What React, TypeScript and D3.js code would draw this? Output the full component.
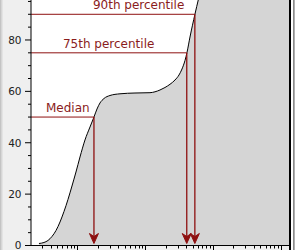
import React from "react";
import * as d3 from "d3";

// Cumulative distribution (log x axis)
const sizes = [0.27, 0.32, 0.367, 0.42, 0.482, 0.552, 0.632, 0.724, 0.829, 0.95, 1.089, 1.29, 1.53, 1.752, 1.94, 2.148, 2.461, 3.017, 4.24, 7.06, 11.75, 13.93, 16.51, 19.56, 23.19, 27.49, 31.49, 34.87, 38.62, 41.33, 45.77, 54.25, 61.09, 66.53, 1400];
const cumulative = [0.78, 1.17, 1.95, 3.5, 5.84, 9.15, 13.23, 17.91, 23.16, 28.61, 34.45, 41.07, 46.13, 50.02, 53.13, 55.47, 57.22, 58.39, 59.05, 59.36, 59.48, 59.83, 60.53, 61.5, 62.75, 64.42, 66.37, 68.7, 72.01, 75.13, 81.16, 90.11, 95.95, 100, 100];

const percentileLabels = ["Median", "75th percentile", "90th percentile"];
const percentileValues = [50, 75, 90];
const percentileSizes = [1.75, 41, 54];
const labelStartSizes = [0.343, 0.61, 1.69];

const yTickValues = [0, 20, 40, 60, 80];
const xDomain = [0.206, 1324];
const yDomain = [0, 100];

const W = 295;
const H = 250;
const LEFT = 31;
const RIGHT = 289;
const BOTTOM = 245.5;
const TOP = -11.4;

const RED = "#8e1010";
const TEXT_RED = "#8a1c1c";

export default function App() {
  const x = d3.scaleLog().domain(xDomain).range([LEFT, RIGHT]);
  const y = d3.scaleLinear().domain(yDomain).range([BOTTOM, TOP]);

  const pts = sizes.map((s, i) => [s, cumulative[i]] as [number, number]);
  const line = d3
    .line<[number, number]>()
    .x((d) => x(d[0]))
    .y((d) => y(d[1]))
    .curve(d3.curveMonotoneX);
  const area = d3
    .area<[number, number]>()
    .x((d) => x(d[0]))
    .y0(y(0))
    .y1((d) => y(d[1]))
    .curve(d3.curveMonotoneX);

  // y ticks: major every 20, minor every 5
  const yMinor = d3.range(0, 101, 5).filter((v) => v % 20 !== 0);

  // x ticks: log
  const xTicks: { v: number; major: boolean }[] = [];
  [0.1, 1, 10, 100, 1000].forEach((dec) => {
    for (let m = 1; m <= 9; m++) {
      const v = dec * m;
      if (v >= xDomain[0] * 0.999 && v <= xDomain[1]) xTicks.push({ v, major: m === 1 });
    }
  });

  const tipY = y(0) - 2;

  return (
    <svg
      width={W}
      height={H}
      style={{ position: "fixed", left: 0, top: 0, display: "block" }}
      xmlns="http://www.w3.org/2000/svg"
    >
      <defs>
        <clipPath id="plot">
          <rect x={LEFT} y={TOP} width={RIGHT - LEFT} height={BOTTOM - TOP} />
        </clipPath>
      </defs>
      {/* backgrounds */}
      <rect x={0} y={0} width={W} height={H} fill="#efefef" />
      <rect x={0} y={0} width={1} height={H} fill="#c4c4c4" />
      <rect x={1} y={0} width={1} height={H} fill="#d6d6d6" />
      <rect x={2} y={0} width={1} height={H} fill="#e3e3e3" />
      <rect x={LEFT} y={0} width={RIGHT - LEFT} height={BOTTOM} fill="#ffffff" />

      {/* area + curve */}
      <g clipPath="url(#plot)">
        <path d={area(pts) || ""} fill="#d5d5d5" />
        <path d={line(pts) || ""} fill="none" stroke="#000" strokeWidth={1} />
      </g>

      {/* percentile lines and arrows */}
      {percentileValues.map((p, i) => {
        const px = x(percentileSizes[i]);
        const py = y(p);
        return (
          <g key={p}>
            <line x1={LEFT} x2={px} y1={py} y2={py} stroke={RED} strokeWidth={1} />
            <line x1={px} x2={px} y1={py} y2={tipY - 4} stroke={RED} strokeWidth={1.3} />
            <path
              d={`M${px},${tipY} L${px - 4.5},${tipY - 10} L${px},${tipY - 7} L${px + 4.5},${tipY - 10} Z`}
              fill={RED}
              stroke={RED}
              strokeWidth={1}
              strokeLinejoin="round"
            />
            <text
              x={x(labelStartSizes[i])}
              y={py - 5}
              fill={TEXT_RED}
              fontFamily="DejaVu Sans, sans-serif"
              fontSize={12}
            >
              {percentileLabels[i]}
            </text>
          </g>
        );
      })}

      {/* y axis */}
      <line x1={LEFT} x2={LEFT} y1={0} y2={BOTTOM} stroke="#000" strokeWidth={1} />
      {yTickValues.map((v) => (
        <g key={"y" + v}>
          <line x1={LEFT - 6} x2={LEFT} y1={y(v)} y2={y(v)} stroke="#000" />
          <text
            x={LEFT - 9.5}
            y={y(v)}
            dy="0.36em"
            textAnchor="end"
            fontFamily="DejaVu Sans, sans-serif"
            fontSize={10.5}
            fill="#222"
          >
            {v}
          </text>
        </g>
      ))}
      {yMinor.map((v) => (
        <line key={"ym" + v} x1={LEFT - 3} x2={LEFT} y1={y(v)} y2={y(v)} stroke="#000" />
      ))}

      {/* x axis */}
      <line x1={LEFT} x2={RIGHT} y1={BOTTOM} y2={BOTTOM} stroke="#000" strokeWidth={1} />
      {xTicks.map((t) => (
        <line
          key={"x" + t.v}
          x1={Math.round(x(t.v)) + 0.5}
          x2={Math.round(x(t.v)) + 0.5}
          y1={BOTTOM}
          y2={BOTTOM + (t.major ? 5 : 3)}
          stroke="#000"
        />
      ))}

      {/* right frame */}
      <rect x={RIGHT} y={0} width={2} height={H} fill="#000" />
      <rect x={RIGHT + 2} y={0} width={2} height={H} fill="#ffffff" />
      <rect x={RIGHT + 4} y={0} width={1} height={H} fill="#8c8c8c" />
      <rect x={RIGHT + 5} y={0} width={1} height={H} fill="#b0b0b0" />
    </svg>
  );
}
